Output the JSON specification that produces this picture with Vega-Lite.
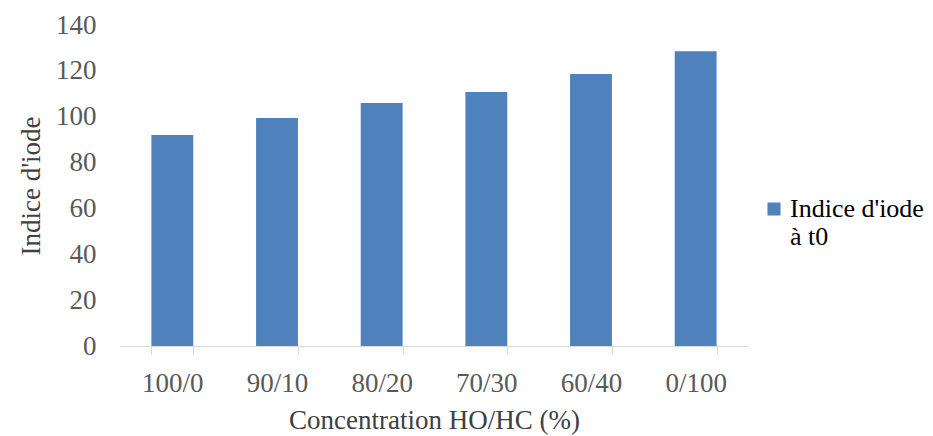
{
  "$schema": "https://vega.github.io/schema/vega-lite/v6.json",
  "width": 628,
  "height": 321,
  "autosize": "none",
  "padding": {"left": 120, "top": 25, "right": 185, "bottom": 90},
  "background": "white",
  "data": {
    "values": [
      {"conc": "100/0", "indice": 92.0, "serie": "Indice d'iode à t0"},
      {"conc": "90/10", "indice": 99.4, "serie": "Indice d'iode à t0"},
      {"conc": "80/20", "indice": 106.0, "serie": "Indice d'iode à t0"},
      {"conc": "70/30", "indice": 110.8, "serie": "Indice d'iode à t0"},
      {"conc": "60/40", "indice": 118.6, "serie": "Indice d'iode à t0"},
      {"conc": "0/100", "indice": 128.6, "serie": "Indice d'iode à t0"}
    ]
  },
  "config": {
    "view": {"stroke": null},
    "font": "Liberation Serif"
  },
  "mark": {"type": "bar", "color": "#4f81bd"},
  "encoding": {
    "x": {
      "field": "conc",
      "type": "nominal",
      "sort": null,
      "scale": {"paddingInner": 0.6, "paddingOuter": 0.3},
      "axis": {
        "title": "Concentration HO/HC (%)",
        "labelAngle": 0,
        "labelFont": "Liberation Serif",
        "labelFontSize": 27,
        "labelColor": "#595959",
        "labelPadding": 16,
        "titleFont": "Liberation Serif",
        "titleFontSize": 27,
        "titleFontWeight": "normal",
        "titleColor": "#404040",
        "titlePadding": 11,
        "domainColor": "#d9d9d9",
        "tickColor": "#d9d9d9",
        "tickSize": 8,
        "tickBand": "extent",
        "grid": false
      }
    },
    "y": {
      "field": "indice",
      "type": "quantitative",
      "scale": {"domain": [0, 140], "nice": false},
      "axis": {
        "title": "Indice d'iode",
        "values": [0, 20, 40, 60, 80, 100, 120, 140],
        "labelFont": "Liberation Serif",
        "labelFontSize": 27,
        "labelColor": "#595959",
        "labelPadding": 24,
        "titleFont": "Liberation Serif",
        "titleFontSize": 27,
        "titleFontWeight": "normal",
        "titleColor": "#404040",
        "titlePadding": 10,
        "domain": false,
        "ticks": false,
        "grid": false
      }
    },
    "color": {
      "field": "serie",
      "type": "nominal",
      "scale": {"range": ["#4f81bd"]},
      "legend": {
        "title": null,
        "orient": "none",
        "legendX": 641,
        "legendY": 171,
        "symbolType": "square",
        "symbolSize": 170,
        "symbolStrokeWidth": 0,
        "labelOffset": 3,
        "labelFont": "Liberation Serif",
        "labelFontSize": 26,
        "labelColor": "#000000",
        "labelLineHeight": 33,
        "labelLimit": 300,
        "labelExpr": "['Indice d\\'iode', 'à t0']"
      }
    }
  }
}
